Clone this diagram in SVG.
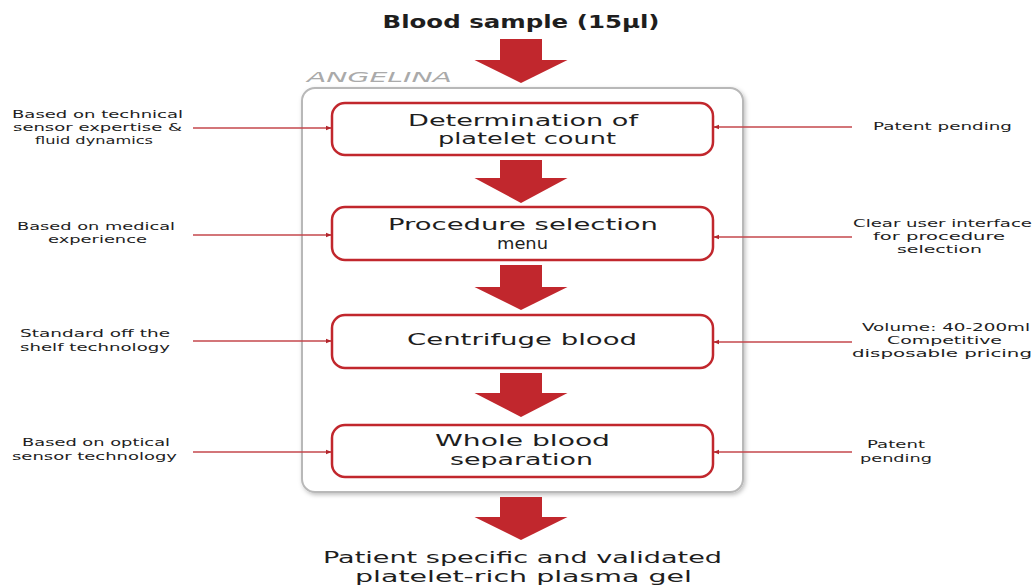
<svg xmlns="http://www.w3.org/2000/svg" width="1035" height="585" viewBox="0 0 1035 585">
<defs>
<style>
text{font-family:"DejaVu Sans","Open Sans",sans-serif;fill:#1e1e1e;text-anchor:middle}
.box{fill:#fff;stroke:#c1272d;stroke-width:2.5}
.bt{font-size:15.5px}
.st{font-size:11px}
.big{fill:#c1272d}
.side{stroke:#c5474c;stroke-width:1.3;fill:none;marker-end:url(#ah)}
</style>
<marker id="ah" viewBox="0 0 10 10" refX="9" refY="5" markerWidth="6" markerHeight="6" orient="auto" markerUnits="userSpaceOnUse">
<path d="M0,1 L10,5 L0,9 z" fill="#b3262c"/>
</marker>
<filter id="sh" x="-5%" y="-5%" width="110%" height="110%">
<feDropShadow dx="1.5" dy="2" stdDeviation="2" flood-color="#000" flood-opacity="0.25"/>
</filter>
</defs>
<rect width="1035" height="585" fill="#fff"/>
<g id="title"><text x="521" y="28" font-size="18" font-weight="bold" textLength="277" lengthAdjust="spacingAndGlyphs">Blood sample (15µl)</text></g>
<g id="container">
<rect x="302" y="88" width="441" height="404" rx="13" fill="#fff" stroke="#b8b8b8" stroke-width="2" filter="url(#sh)"/>
<text x="379.5" y="82" font-size="14" font-style="italic" style="fill:#aaaaaa" textLength="145" lengthAdjust="spacingAndGlyphs">ANGELINA</text>
</g>
<g id="connectors">
<path class="big" d="M500,39 H542 V60 H567.5 L521,83 L474.5,60 H500 Z"/>
<path class="big" d="M500,160 H542 V178 H567.5 L521,203 L474.5,178 H500 Z"/>
<path class="big" d="M500,265 H542 V287 H567.5 L521,310 L474.5,287 H500 Z"/>
<path class="big" d="M500,373 H542 V393 H567.5 L521,417 L474.5,393 H500 Z"/>
<path class="big" d="M500,497 H542 V517 H567.5 L521,540 L474.5,517 H500 Z"/>
<line class="side" x1="193" y1="128" x2="331" y2="128"/>
<line class="side" x1="193" y1="235" x2="331" y2="235"/>
<line class="side" x1="193" y1="341" x2="331" y2="341"/>
<line class="side" x1="193" y1="452" x2="331" y2="452"/>
<line class="side" x1="852" y1="127" x2="714" y2="127"/>
<line class="side" x1="852" y1="237" x2="714" y2="237"/>
<line class="side" x1="852" y1="342" x2="714" y2="342"/>
<line class="side" x1="852" y1="452" x2="714" y2="452"/>
</g>
<g id="box1">
<rect class="box" x="332" y="103" width="381" height="52" rx="13"/>
<text class="bt" x="523" y="126" textLength="230" lengthAdjust="spacingAndGlyphs">Determination of</text>
<text class="bt" x="527" y="144" textLength="178" lengthAdjust="spacingAndGlyphs">platelet count</text>
</g>
<g id="box2">
<rect class="box" x="332" y="207" width="381" height="53" rx="13"/>
<text class="bt" x="523" y="230" textLength="270" lengthAdjust="spacingAndGlyphs">Procedure selection</text>
<text class="bt" x="522.5" y="249" textLength="51" lengthAdjust="spacingAndGlyphs">menu</text>
</g>
<g id="box3">
<rect class="box" x="332" y="315" width="381" height="53" rx="13"/>
<text class="bt" x="522" y="345" textLength="230" lengthAdjust="spacingAndGlyphs">Centrifuge blood</text>
</g>
<g id="box4">
<rect class="box" x="332" y="425" width="381" height="52" rx="13"/>
<text class="bt" x="522.5" y="446" textLength="175" lengthAdjust="spacingAndGlyphs">Whole blood</text>
<text class="bt" x="521.5" y="465" textLength="143" lengthAdjust="spacingAndGlyphs">separation</text>
</g>
<g id="result">
<text x="522.5" y="563" font-size="16.5" textLength="399" lengthAdjust="spacingAndGlyphs">Patient specific and validated</text>
<text x="523.5" y="582" font-size="16.5" textLength="337" lengthAdjust="spacingAndGlyphs">platelet-rich plasma gel</text>
</g>
<g id="note-left1">
<text class="st" x="97.5" y="118" textLength="171" lengthAdjust="spacingAndGlyphs">Based on technical</text>
<text class="st" x="97.5" y="131" textLength="169" lengthAdjust="spacingAndGlyphs">sensor expertise &amp;</text>
<text class="st" x="94" y="144" textLength="118" lengthAdjust="spacingAndGlyphs">fluid dynamics</text>
</g>
<g id="note-left2">
<text class="st" x="96" y="230" textLength="158" lengthAdjust="spacingAndGlyphs">Based on medical</text>
<text class="st" x="97.5" y="243" textLength="99" lengthAdjust="spacingAndGlyphs">experience</text>
</g>
<g id="note-left3">
<text class="st" x="95" y="337" textLength="150" lengthAdjust="spacingAndGlyphs">Standard off the</text>
<text class="st" x="95" y="351" textLength="150" lengthAdjust="spacingAndGlyphs">shelf technology</text>
</g>
<g id="note-left4">
<text class="st" x="96" y="446" textLength="148" lengthAdjust="spacingAndGlyphs">Based on optical</text>
<text class="st" x="94.5" y="460" textLength="165" lengthAdjust="spacingAndGlyphs">sensor technology</text>
</g>
<g id="note-right1">
<text class="st" x="942.5" y="130" textLength="139" lengthAdjust="spacingAndGlyphs">Patent pending</text>
</g>
<g id="note-right2">
<text class="st" x="942.5" y="227" textLength="179" lengthAdjust="spacingAndGlyphs">Clear user interface</text>
<text class="st" x="939" y="240" textLength="132" lengthAdjust="spacingAndGlyphs">for procedure</text>
<text class="st" x="939.5" y="253" textLength="85" lengthAdjust="spacingAndGlyphs">selection</text>
</g>
<g id="note-right3">
<text class="st" x="946" y="331" textLength="168" lengthAdjust="spacingAndGlyphs">Volume: 40-200ml</text>
<text class="st" x="944.5" y="344" textLength="115" lengthAdjust="spacingAndGlyphs">Competitive</text>
<text class="st" x="942" y="357" textLength="180" lengthAdjust="spacingAndGlyphs">disposable pricing</text>
</g>
<g id="note-right4">
<text class="st" x="896" y="448" textLength="58" lengthAdjust="spacingAndGlyphs">Patent</text>
<text class="st" x="896" y="462" textLength="72" lengthAdjust="spacingAndGlyphs">pending</text>
</g>
</svg>
